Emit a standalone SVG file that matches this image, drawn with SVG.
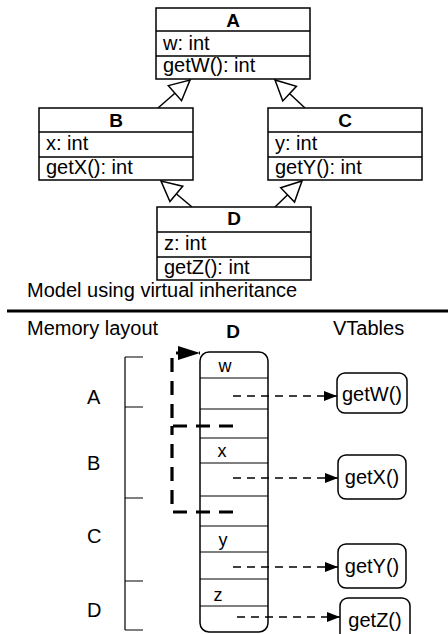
<svg xmlns="http://www.w3.org/2000/svg" width="448" height="634" viewBox="0 0 448 634">
<style>
text{font-family:"Liberation Sans",Arial,sans-serif;font-size:20px;fill:#000}
.b{font-weight:bold;text-anchor:middle;font-size:19px}
.m{text-anchor:middle}
.s{font-size:18px;text-anchor:middle}
.box{fill:#fff;stroke:#000;stroke-width:1.5}
.ln{stroke:#000;stroke-width:1.5;fill:none}
.th{stroke:#000;stroke-width:1.2;fill:none}
.gen{stroke:#000;stroke-width:1.5;fill:none;marker-end:url(#tri)}
.dsh{stroke:#000;stroke-width:1.3;fill:none;stroke-dasharray:8 6;marker-end:url(#fa)}
.tk{stroke:#000;stroke-width:3.2;fill:none;stroke-dasharray:14 9}
</style>
<defs>
<marker id="tri" viewBox="-2 -2 24 24" markerUnits="userSpaceOnUse" markerWidth="24" markerHeight="24" refX="20" refY="10" orient="auto">
<path d="M0,0 L20,10 L0,20 Z" fill="#fff" stroke="#000" stroke-width="1.5"/>
</marker>
<marker id="fa" viewBox="0 0 13 10" markerUnits="userSpaceOnUse" markerWidth="13" markerHeight="10" refX="13" refY="5" orient="auto">
<path d="M0,0 L13,5 L0,10 Z" fill="#000"/>
</marker>
<marker id="fb" viewBox="0 0 22 14" markerUnits="userSpaceOnUse" markerWidth="22" markerHeight="14" refX="22" refY="7" orient="auto">
<path d="M0,0 L22,7 L0,14 Z" fill="#000"/>
</marker>
</defs>

<g id="connectors">
<path class="gen" d="M158,108 L190,80"/>
<path class="gen" d="M305,108 L275,80"/>
<path class="gen" d="M192,207 L161,181"/>
<path class="gen" d="M275,207 L302,181"/>
</g>

<g id="A">
<rect class="box" x="156" y="8" width="154" height="71"/>
<path class="ln" d="M156,31 H310 M156,56 H310"/>
<text class="b" x="233" y="27">A</text>
<text x="163" y="50">w: int</text>
<text x="163" y="72">getW(): int</text>
</g>
<g id="B">
<rect class="box" x="39" y="108" width="154" height="72"/>
<path class="ln" d="M39,132 H193 M39,157 H193"/>
<text class="b" x="116" y="127">B</text>
<text x="46" y="150">x: int</text>
<text x="46" y="174">getX(): int</text>
</g>
<g id="C">
<rect class="box" x="268" y="108" width="154" height="72"/>
<path class="ln" d="M268,132 H422 M268,157 H422"/>
<text class="b" x="345" y="127">C</text>
<text x="275" y="150">y: int</text>
<text x="275" y="174">getY(): int</text>
</g>
<g id="D">
<rect class="box" x="157" y="207" width="154" height="73"/>
<path class="ln" d="M157,232 H311 M157,257 H311"/>
<text class="b" x="234" y="225">D</text>
<text x="164" y="250">z: int</text>
<text x="164" y="274">getZ(): int</text>
</g>

<text x="27" y="297">Model using virtual inheritance</text>
<path d="M7,311 H448" stroke="#000" stroke-width="3.2"/>

<text x="27" y="335">Memory layout</text>
<text class="b" x="233" y="338">D</text>
<text x="333" y="335">VTables</text>

<g id="bracket">
<path class="th" d="M125,357 V630 M125,357 H143 M125,407 H143 M125,498 H143 M125,581 H143 M125,630 H143"/>
<text x="87" y="404">A</text>
<text x="87" y="470">B</text>
<text x="87" y="543">C</text>
<text x="87" y="617">D</text>
</g>

<g id="memory">
<rect class="box" x="200" y="352" width="68" height="280" rx="9" stroke-width="1.3"/>
<path class="th" d="M200,378 H268 M200,409 H268 M200,438 H268 M200,463 H268 M200,496 H268 M200,526 H268 M200,552 H268 M200,579 H268 M200,606 H268"/>
<text class="s" x="225" y="372">w</text>
<text class="s" x="222" y="457">x</text>
<text class="s" x="223" y="546">y</text>
<text class="s" x="218" y="601">z</text>
</g>

<g id="vptr">
<path class="tk" d="M233,426 H172 V353 H200" marker-end="url(#fb)"/>
<path class="tk" d="M233,512 H172 V426"/>
</g>

<g id="vtable-arrows">
<path class="dsh" d="M233,396 H337"/>
<path class="dsh" d="M233,478 H338"/>
<path class="dsh" d="M233,567 H338"/>
<path class="dsh" d="M237,617 H340"/>
</g>

<g id="getW">
<rect class="box" x="337" y="373" width="70" height="40" rx="8" stroke-width="1.3"/>
<text class="m" x="372" y="401">getW()</text>
</g>
<g id="getX">
<rect class="box" x="338" y="455" width="68" height="44" rx="8" stroke-width="1.3"/>
<text class="m" x="372" y="484">getX()</text>
</g>
<g id="getY">
<rect class="box" x="338" y="544" width="68" height="44" rx="8" stroke-width="1.3"/>
<text class="m" x="372" y="573">getY()</text>
</g>
<g id="getZ">
<rect class="box" x="340" y="598" width="70" height="44" rx="8" stroke-width="1.3"/>
<text class="m" x="375" y="627">getZ()</text>
</g>
</svg>
